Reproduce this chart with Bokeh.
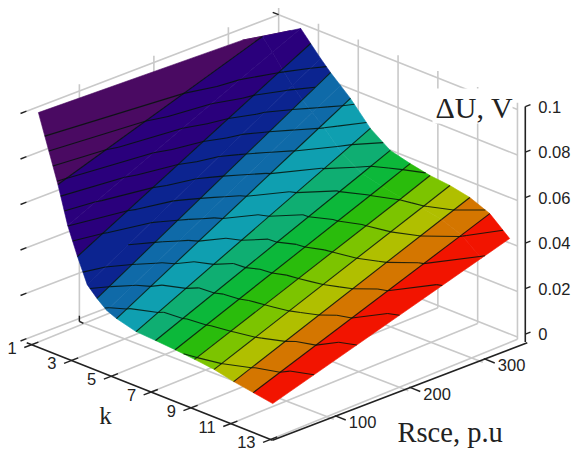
from bokeh.plotting import figure
from bokeh.core.properties import value
from bokeh.embed import file_html
from bokeh.resources import INLINE

# ---- data -----------------------------------------------------------------
k_nodes = [1, 2, 2.5, 3, 3.5, 4, 4.5, 5, 6, 7, 8, 9, 10, 11, 12, 13]
rsce_low = [24, 23.5, 23.25, 23, 22.75, 22.5, 22.25, 22, 21.5, 21, 20.5, 20, 19.5, 19, 18.5, 18]
rsce_knee = 298
rsce_high = 336
du_low = [.0974, .0693, .0531, .0412, .0306, .0263, .0228, .0210, .0188, .0184, .0179, .0172, .0163, .0145, .0132, .0119]
du_knee = [.0949, .1000, .0948, .0891, .0836, .0791, .0752, .0715, .0626, .0571, .0550, .0533, .0525, .0508, .0474, .0407]
du_high = [.0926, .0978, .1005, .0956, .0908, .0863, .0824, .0784, .0687, .0625, .0602, .0584, .0575, .0557, .0521, .0446]
du_levels = [.0176, .0235, .0294, .0353, .0412, .0471, .0529, .0588, .0647, .0706, .0765, .0824, .0882]
band_colors = ["#4a0a62", "#2a007c", "#0c2490", "#0f6aa8", "#0f9fb0", "#0fae72",
               "#0cb83a", "#2abc0c", "#7cc400", "#b0bf00", "#d47600", "#f21400"]
k_ticks = [1, 3, 5, 7, 9, 11, 13]
rsce_ticks = [100, 200, 300]
du_ticks = [0, 0.02, 0.04, 0.06, 0.08, 0.1]
du_labels = ["0", "0.02", "0.04", "0.06", "0.08", "0.1"]

# ---- oblique projection of (k, Rsce, dU) on the page ----------------------
W, H = 574, 454
R_AXIS_START, R_AXIS_END, R_BACK, R_LEFT, WALL_SKEW = 15, 357, 346.5, 8, 21
Z_AXIS = -.0035


def px(k, r):
    return 270 + 19.9 * (k - 13) + .745 * (r - 15)


def py(k, r, z):
    return 431 + 7.9 * (k - 13) - .285 * (r - 15) - 2275 * z


p = figure(width=W, height=H, x_range=(0, W), y_range=(H, 0), output_backend="svg",
           toolbar_location=None, min_border=0, outline_line_color=None)
p.axis.visible = False
p.grid.visible = False
p.background_fill_color = "white"


def segs(a, **kw):
    p.segment([s[0] for s in a], [s[1] for s in a], [s[2] for s in a], [s[3] for s in a], **kw)


def seg3(a, b):
    return (px(a[0], a[1]), py(*a), px(b[0], b[1]), py(*b))


# ---- walls and floor ------------------------------------------------------
grey = []
for z in du_ticks:
    grey.append(seg3((1, R_LEFT, z), (1, R_BACK, z)))
    grey.append(seg3((1, R_BACK, z), (13, R_BACK, z)))
for r in rsce_ticks:
    grey.append(seg3((1, r - WALL_SKEW, -.0013), (1, r - WALL_SKEW, .103)))
    grey.append(seg3((13, r, -.0053), (1, r - WALL_SKEW, -.0013)))
for k in k_ticks:
    grey.append(seg3((k, R_BACK, -.001), (k, R_BACK, .103)))
    grey.append(seg3((k, R_AXIS_START, Z_AXIS), (k, R_BACK, -.001)))
segs(grey, line_color="#c9c9c9", line_width=1.6)

# white box behind the dU label
p.quad(left=[432], right=[512], top=[88], bottom=[123], fill_color="white", line_color=None)

# ---- surface --------------------------------------------------------------
rows = []
for i, k in enumerate(k_nodes):
    rows.append([(k, rsce_low[i], du_low[i]), (k, rsce_knee, du_knee[i]), (k, rsce_high, du_high[i])])

qx, qy, qc = [], [], []
contour = []
for i in range(len(k_nodes) - 1):
    c = band_colors[int(k_nodes[i]) - 1]
    for j in range(2):
        a, b, d, e = rows[i][j], rows[i + 1][j], rows[i + 1][j + 1], rows[i][j + 1]
        quad = [a, b, d, e]
        qx.append([px(v[0], v[1]) for v in quad])
        qy.append([py(*v) for v in quad])
        qc.append(c)
        for tri in ((a, b, d), (a, d, e)):
            for lev in du_levels:
                cross = []
                for s in range(3):
                    u, w = tri[s], tri[(s + 1) % 3]
                    if (u[2] - lev) * (w[2] - lev) < 0:
                        t = (lev - u[2]) / (w[2] - u[2])
                        cross.append((u[0] + t * (w[0] - u[0]), u[1] + t * (w[1] - u[1]), lev))
                if len(cross) == 2:
                    contour.append(seg3(cross[0], cross[1]))
p.patches(qx, qy, fill_color=qc, line_color=qc, line_width=.6)

kl = []
for i, k in enumerate(k_nodes):
    if k == int(k) and 1 < k < 13:
        stop = 1 if k == 2 else 2
        for j in range(stop):
            kl.append(seg3(rows[i][j], rows[i][j + 1]))
segs(kl, line_color="#06140a", line_width=1.1, line_alpha=.85)
segs(contour, line_color="#06140a", line_width=1.1, line_alpha=.85)

# ---- axes -----------------------------------------------------------------
axes = [seg3((.75, R_AXIS_START, Z_AXIS), (13.1, R_AXIS_START, Z_AXIS)),
        seg3((13.1, R_AXIS_START, Z_AXIS), (13.1, R_AXIS_END, Z_AXIS)),
        seg3((13, R_AXIS_END, Z_AXIS), (13, R_AXIS_END, .1))]
segs(axes, line_color="#222222", line_width=1.6)

stubs = []
for k in k_ticks:
    stubs.append(seg3((k, 5, Z_AXIS), (k, 24, Z_AXIS)))
for r in rsce_ticks:
    stubs.append(seg3((13.05, r, Z_AXIS), (13.6, r, Z_AXIS)))
for z in du_ticks:
    stubs.append(seg3((13, R_AXIS_END, z), (13, 364, z)))
    stubs.append(seg3((1, 0, z), (1, R_LEFT, z)))
stubs.append(seg3((.7, R_BACK, .1), (1, R_BACK, .1)))
stubs.append(seg3((1, 100 - WALL_SKEW, .0012), (1, 100 - WALL_SKEW, -.0013)))
stubs.append(seg3((1, 100 - WALL_SKEW, -.0013), (1.2, 100 - WALL_SKEW, -.0015)))
segs(stubs, line_color="#222222", line_width=1.4)

# ---- texts ----------------------------------------------------------------
sans = value("Liberation Sans")
serif = value("Liberation Serif")
p.text([px(k, R_AXIS_START) - 15 for k in k_ticks], [py(k, R_AXIS_START, Z_AXIS) + 3 for k in k_ticks],
       text=[str(k) for k in k_ticks], text_font=sans, text_font_size="16.5px", text_color="#222222",
       text_align="right", text_baseline="middle")
p.text([px(13, r) + 15 for r in rsce_ticks], [py(13, r, Z_AXIS) + 7 for r in rsce_ticks],
       text=[str(r) for r in rsce_ticks], text_font=sans, text_font_size="16.5px", text_color="#222222",
       text_align="left", text_baseline="middle")
p.text([px(13, R_AXIS_END) + 13 for z in du_ticks], [py(13, R_AXIS_END, z) for z in du_ticks],
       text=du_labels, text_font=sans, text_font_size="16.5px", text_color="#222222",
       text_align="left", text_baseline="middle")
p.text([435], [107], text=["ΔU, V"], text_font=serif, text_font_size="30px", text_color="#222222",
       text_align="left", text_baseline="middle")
p.text([105], [415], text=["k"], text_font=serif, text_font_size="25px", text_color="#222222",
       text_align="center", text_baseline="middle")
p.text([397], [432], text=["Rsce, p.u"], text_font=serif, text_font_size="28.5px", text_color="#222222",
       text_align="left", text_baseline="middle")

open("out.html", "w").write(file_html(p, INLINE))
